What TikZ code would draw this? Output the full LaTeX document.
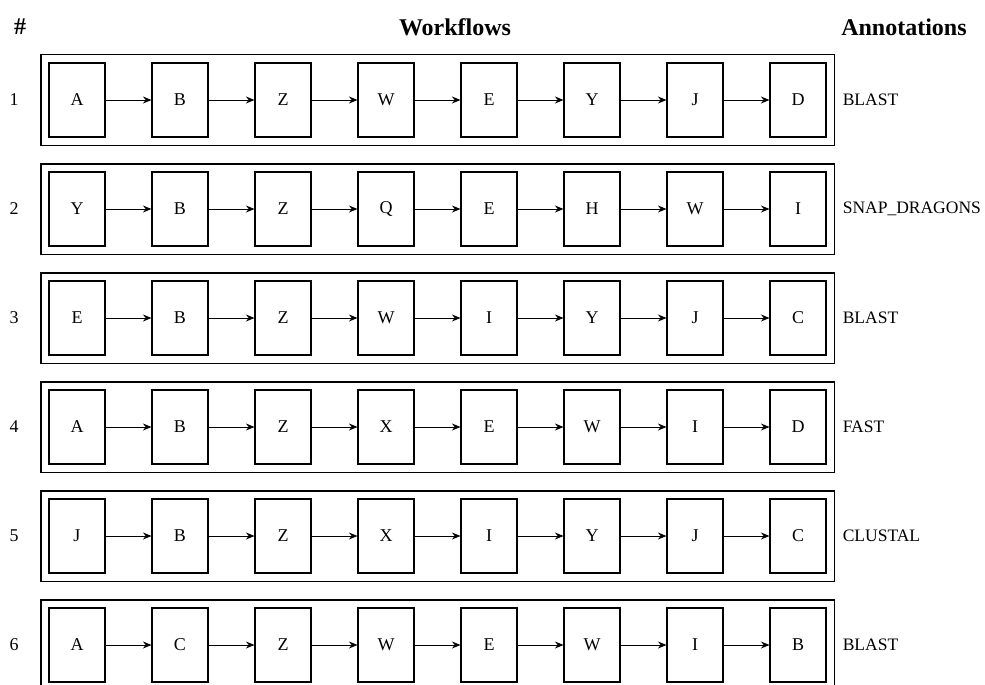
\documentclass[tikz,border=0pt]{standalone}
\usepackage{fontspec}
\setmainfont{Liberation Serif}
\usetikzlibrary{arrows.meta, positioning, fit}

\begin{document}
\begin{tikzpicture}[
    x=1pt, y=-1pt,
    >={Stealth[length=8.5pt, width=7pt]},
    stage/.style={draw, line width=1.1pt, minimum width=56pt,
                  minimum height=74pt, inner sep=0pt,
                  font=\fontsize{18}{20}\selectfont},
    flow/.style={draw, line width=1.1pt, inner sep=7.5pt},
    rownum/.style={font=\fontsize{18}{20}\selectfont, inner sep=0pt},
    annot/.style={font=\fontsize{17.5}{20}\selectfont, inner sep=0pt},
    head/.style={font=\fontsize{24}{26}\selectfont\bfseries, inner sep=0pt}
  ]
  \clip (0,0) rectangle (985,685);

  % column headings
  \node[head] (hnum) at (20,27) {\#};
  \node[head] (hflow) at (455,27) {Workflows};
  \node[head] (hann) at (904,27) {Annotations};

  % one row per workflow
  \foreach \tool/\seq [count=\r] in {
      BLAST/{A,B,Z,W,E,Y,J,D},
      SNAP\_DRAGONS/{Y,B,Z,Q,E,H,W,I},
      BLAST/{E,B,Z,W,I,Y,J,C},
      FAST/{A,B,Z,X,E,W,I,D},
      CLUSTAL/{J,B,Z,X,I,Y,J,C},
      BLAST/{A,C,Z,W,E,W,I,B}} {
    \node[rownum] (num\r) at (14, {100+109*(\r-1)}) {\r};
    \foreach \c [count=\i, remember=\i as \j (initially 0)] in \seq {
      \node[stage] (n\r-\i) at ({77+103*(\i-1)}, {100+109*(\r-1)}) {\c};
      \ifnum\i>1
        \draw[->, line width=0.9pt] (n\r-\j) -- (n\r-\i);
      \fi
    }
    \node[flow, fit=(n\r-1)(n\r-8)] (wf\r) {};
    \node[annot, right=8pt of wf\r] (ann\r) {\tool};
  }
\end{tikzpicture}
\end{document}
